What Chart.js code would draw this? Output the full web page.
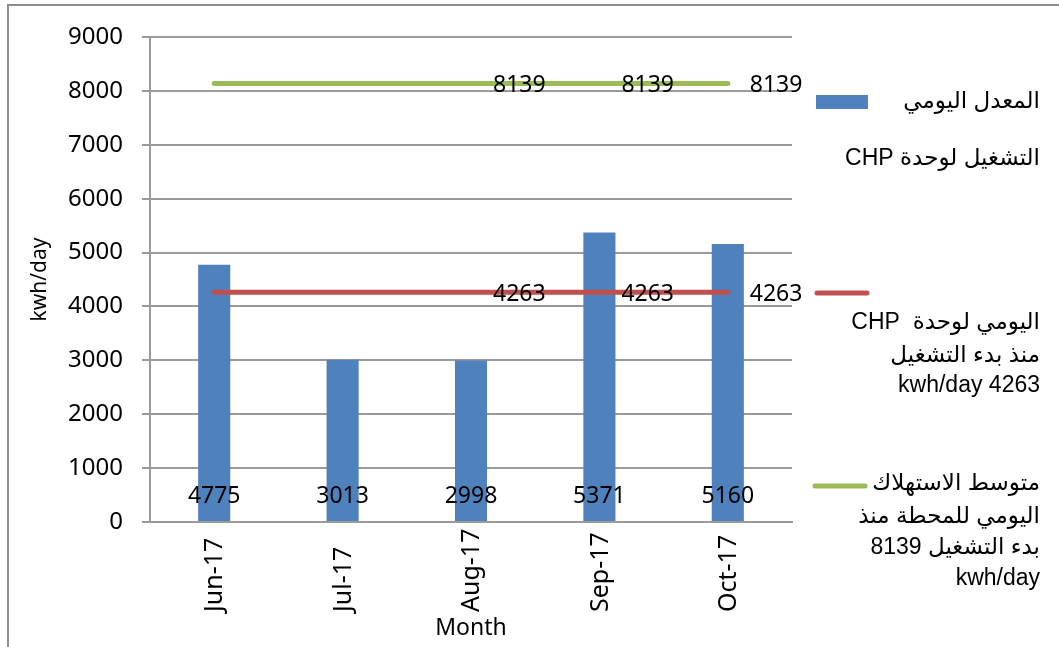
<!DOCTYPE html>
<html>
<head>
<meta charset="utf-8">
<title>CHP kwh/day</title>
<script src="https://cdn.jsdelivr.net/npm/chart.js@4.4.1/dist/chart.umd.min.js"></script>
<style>
  html, body { margin:0; padding:0; background:#fff; }
  #wrap { position:relative; width:1059px; height:647px; }
</style>
</head>
<body>
<div id="wrap"><canvas id="c" width="1059" height="647"></canvas></div>
<script>
/* 월별 값 */
const MONTHS      = ['Jun-17', 'Jul-17', 'Aug-17', 'Sep-17', 'Oct-17'];
const DAILY_AVG   = [4775, 3013, 2998, 5371, 5160];
const CHP_AVG     = [4263, 4263, 4263, 4263, 4263];
const STATION_AVG = [8139, 8139, 8139, 8139, 8139];
const Y_MIN = 0, Y_MAX = 9000, Y_STEP = 1000;
const LINE_LABEL_FROM = 2;   // 선 라벨은 Aug-17부터 표시

/* 범례 문구 (줄 단위) */
const LEGEND_BAR     = ['المعدل اليومي', 'التشغيل لوحدة CHP'];
const LEGEND_CHP     = ['اليومي لوحدة  CHP', 'منذ بدء التشغيل', 'kwh/day 4263'];
const LEGEND_STATION = ['متوسط الاستهلاك', 'اليومي للمحطة منذ', 'بدء التشغيل 8139', 'kwh/day'];

const BLUE = '#4F81BD', RED = '#C0504D', GREEN = '#9BBB59';
const GRID = '#9a9a9a';
const NUM_FONT = "'Noto Sans', 'Open Sans', sans-serif";
const TXT_FONT = "'Liberation Sans', 'DejaVu Sans', sans-serif";

/* 바깥 테두리 */
const framePlugin = {
  id: 'frame',
  beforeDraw(chart){
    const { ctx } = chart;
    ctx.save();
    ctx.strokeStyle = '#8c8c8c'; ctx.lineWidth = 2;
    ctx.beginPath();
    ctx.moveTo(8, chart.height + 2); ctx.lineTo(8, 5); ctx.lineTo(chart.width + 2, 5);
    ctx.stroke();
    ctx.restore();
  }
};

/* 막대 하단 값 + 선 값 라벨 */
const valueLabelPlugin = {
  id: 'valueLabels',
  afterDatasetsDraw(chart){
    const { ctx, scales:{ y } } = chart;
    ctx.save();
    ctx.fillStyle = '#000';
    ctx.font = `23px ${NUM_FONT}`;
    ctx.textBaseline = 'middle';

    const barMeta = chart.getDatasetMeta(0);
    ctx.textAlign = 'center';
    barMeta.data.forEach((bar, i) => {
      ctx.fillText(String(DAILY_AVG[i]), bar.x, y.getPixelForValue(0) - 26);
    });

    ctx.textAlign = 'left';
    [1, 2].forEach(di => {
      const meta = chart.getDatasetMeta(di);
      const vals = chart.data.datasets[di].data;
      meta.data.forEach((pt, i) => {
        if(i < LINE_LABEL_FROM) return;
        ctx.fillText(String(vals[i]), pt.x + 22, pt.y + 2);
      });
    });
    ctx.restore();
  }
};

/* x축 라벨 (세로, 아래쪽 기준 정렬) */
const xLabelPlugin = {
  id: 'xLabels',
  afterDraw(chart){
    const { ctx, scales:{ x } } = chart;
    ctx.save();
    ctx.fillStyle = '#000';
    ctx.font = `25px ${NUM_FONT}`;
    ctx.textAlign = 'left';
    ctx.textBaseline = 'middle';
    MONTHS.forEach((m, i) => {
      ctx.save();
      ctx.translate(x.getPixelForTick(i) + 1, 612);
      ctx.rotate(-Math.PI / 2);
      ctx.fillText(m, 0, 0);
      ctx.restore();
    });
    ctx.restore();
  }
};

/* 오른쪽 범례 */
const sideLegendPlugin = {
  id: 'sideLegend',
  afterDraw(chart){
    const { ctx } = chart;
    const right = 1040;
    ctx.save();
    // 견본
    ctx.fillStyle = BLUE;
    ctx.fillRect(816, 95, 52, 14);
    ctx.lineCap = 'round'; ctx.lineWidth = 5;
    ctx.strokeStyle = RED;
    ctx.beginPath(); ctx.moveTo(817, 293); ctx.lineTo(867, 293); ctx.stroke();
    ctx.strokeStyle = GREEN;
    ctx.beginPath(); ctx.moveTo(815, 486); ctx.lineTo(865, 486); ctx.stroke();

    // 문구
    ctx.fillStyle = '#000';
    ctx.font = `23px ${TXT_FONT}`;
    ctx.direction = 'rtl';
    ctx.textAlign = 'right';
    ctx.textBaseline = 'middle';
    const put = (lines, ys) => lines.forEach((t, i) => ctx.fillText(t, right, ys[i]));
    put(LEGEND_BAR,     [102, 159]);
    put(LEGEND_CHP,     [323, 356, 386]);
    put(LEGEND_STATION, [484, 517, 548, 579]);
    ctx.restore();
  }
};

const lineStyle = {
  type: 'line', borderWidth: 5, borderCapStyle: 'round', pointRadius: 0,
  pointHoverRadius: 0, fill: false, tension: 0, order: 0
};

new Chart(document.getElementById('c'), {
  data: {
    labels: MONTHS,
    datasets: [
      { type: 'bar', label: 'المعدل اليومي', data: DAILY_AVG, backgroundColor: BLUE,
        barPercentage: 0.25, categoryPercentage: 1, order: 1 },
      { ...lineStyle, label: 'CHP', data: CHP_AVG, borderColor: RED, backgroundColor: RED },
      { ...lineStyle, label: 'station', data: STATION_AVG, borderColor: GREEN, backgroundColor: GREEN }
    ]
  },
  plugins: [framePlugin, valueLabelPlugin, xLabelPlugin, sideLegendPlugin],
  options: {
    responsive: false, animation: false,
    layout: { padding: { top: 37, right: 267, left: 0, bottom: 0 } },
    plugins: { legend: { display: false }, tooltip: { enabled: false } },
    scales: {
      x: {
        afterFit: s => { s.height = 125; },
        grid: { display: false },
        border: { display: true, color: GRID, width: 2 },
        ticks: { display: false },
        title: { display: true, text: 'Month', color: '#000', font: { family: NUM_FONT, size: 23 }, padding: 5 }
      },
      y: {
        min: Y_MIN, max: Y_MAX,
        afterFit: s => { s.width = 150; },
        ticks: { stepSize: Y_STEP, color: '#000', padding: 19, font: { family: NUM_FONT, size: 24 },
                 callback: v => String(v) },
        grid: { color: GRID, lineWidth: 2, tickLength: 8 },
        border: { display: true, color: GRID, width: 2 },
        title: { display: true, text: 'kwh/day', color: '#000', font: { family: NUM_FONT, size: 21 }, padding: 27 }
      }
    }
  }
});
</script>
</body>
</html>
